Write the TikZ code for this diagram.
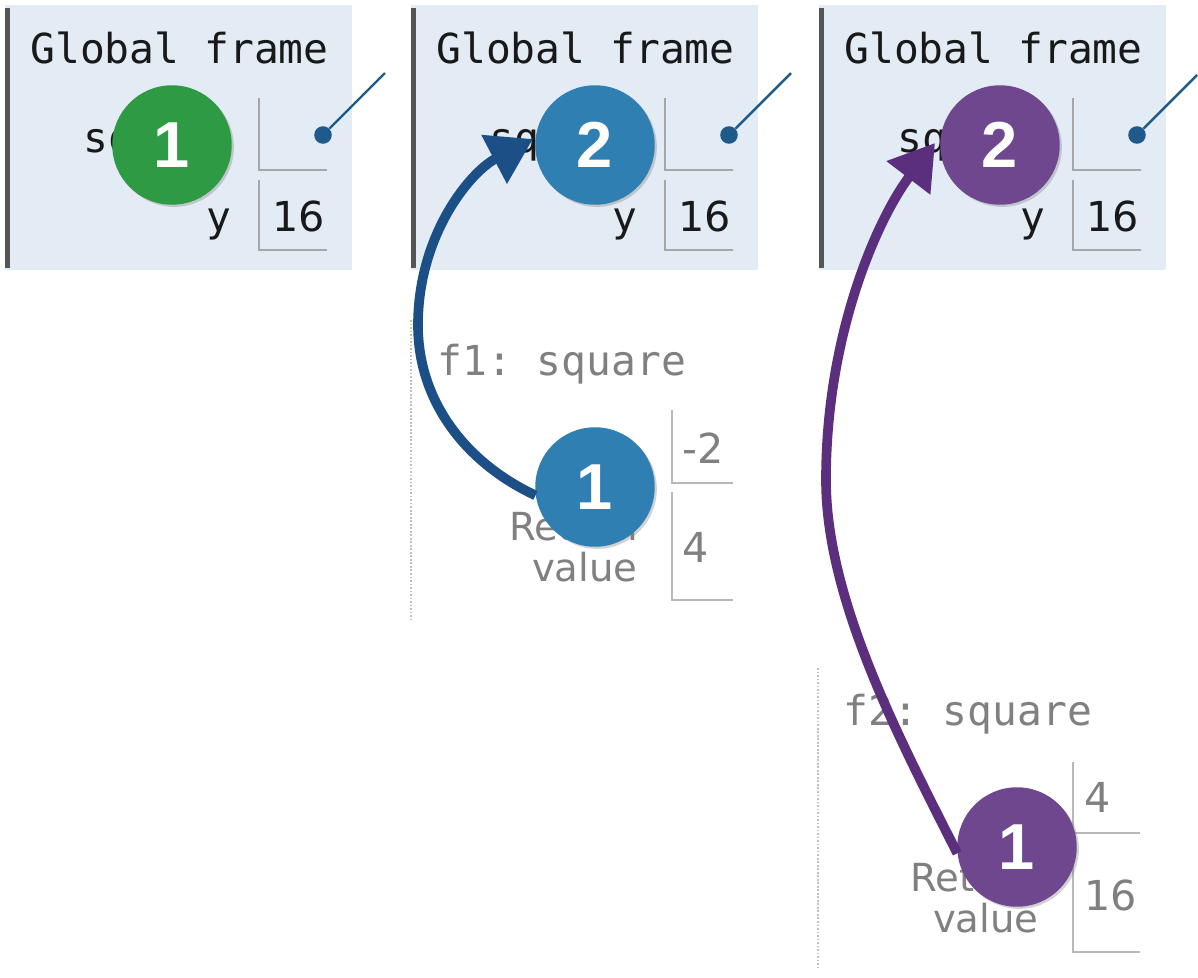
\documentclass[tikz,border=0pt]{standalone}
\usepackage{fontspec}
\setmainfont{DejaVu Sans}
\setmonofont{DejaVu Sans Mono}
\newfontfamily\numfont{Liberation Sans}
\usetikzlibrary{arrows.meta,shadows}
\definecolor{framebg}{HTML}{E3EBF5}
\definecolor{framebar}{HTML}{555555}
\definecolor{boxgray}{HTML}{A6A6A6}
\definecolor{fadetext}{HTML}{808080}
\definecolor{ptrblue}{HTML}{1F5B8A}
\definecolor{stepgreen}{HTML}{2E9B44}
\definecolor{stepblue}{HTML}{2F7FB2}
\definecolor{arrowblue}{HTML}{1B4F85}
\definecolor{steppurple}{HTML}{6F478F}
\definecolor{arrowpurple}{HTML}{5C2F7E}

\begin{document}
\begin{tikzpicture}[x=0.02cm,y=-0.02cm,
    mono/.style={font=\ttfamily\fontsize{23.5}{26}\selectfont, inner sep=0pt, text=black!90},
    fmono/.style={mono, text=fadetext},
    valtxt/.style={font=\fontsize{23.5}{26}\selectfont, inner sep=0pt, anchor=base west},
    retlbl/.style={font=\fontsize{22}{23.3}\selectfont, inner sep=0pt, text=fadetext,
      align=right, anchor=base east},
    boxline/.style={boxgray, line width=1.1pt},
    ptrdot/.style={circle, fill=ptrblue, inner sep=0pt, minimum size=10pt},
    ptrline/.style={ptrblue, line width=1.4pt},
    stepcirc/.style={circle, minimum size=68pt, inner sep=0pt, text=white,
      font=\numfont\bfseries\fontsize{37}{37}\selectfont,
      drop shadow={shadow xshift=1.2pt, shadow yshift=-1.2pt, opacity=.35}},
    steparrow/.style={line width=5.5pt, -{Triangle[length=25pt, width=30pt]}},
    framedots/.style={gray!50, line width=1.2pt, dash pattern=on 1pt off 1pt}]
  \useasboundingbox (0,0) rectangle (1198,978);
  \fill[white] (0,0) rectangle (1198,978);
  % global frames
  \foreach \i/\dx/\ex in {1/0/62,2/406/62,3/814/60} {
    \begin{scope}[shift={(\dx,0)}]
      \fill[framebg] (5,5) rectangle (352,270);
      \draw[framebar, line width=2.8pt] (7.5,8) -- (7.5,268);
      \node[mono, anchor=base west] (gf\i) at (30,63) {Global frame};
      \node[mono, anchor=base east] (sqname\i) at (233,152) {square};
      \node[mono, anchor=base east] (yname\i) at (232,231) {y};
      \draw[boxline] (259,98) -- (259,170) -- (327,170);
      \draw[boxline] (259,180) -- (259,250) -- (327,250);
      \node[valtxt, text=black!90] (yval\i) at (272,231) {16};
      \node[ptrdot] (ptr\i) at (323,135) {};
      \coordinate (ptrend\i) at (323+\ex,135-\ex);
      \draw[ptrline] (ptr\i) -- (ptrend\i);
    \end{scope}
  }
  % frame f1
  \draw[framedots] (411,320) -- (411,620);
  \node[fmono, anchor=base west] (f1name) at (437,375) {f1: square};
  \draw[boxline, boxgray!80] (672,410) -- (672,483) -- (733,483);
  \draw[boxline, boxgray!80] (672,492) -- (672,600) -- (733,600);
  \node[valtxt, text=fadetext] (xval1) at (682,463) {-2};
  \node[valtxt, text=fadetext] (retval1) at (682,562) {4};
  \node[retlbl] (ret1) at (638,581) {Return\\value};
  % frame f2
  \draw[framedots] (818,668) -- (818,970);
  \node[fmono, anchor=base west] (f2name) at (843,725) {f2: square};
  \draw[boxline, boxgray!80] (1073,762) -- (1073,833) -- (1140,833);
  \draw[boxline, boxgray!80] (1073,840) -- (1073,952) -- (1140,952);
  \node[valtxt, text=fadetext] (xval2) at (1084,812) {4};
  \node[valtxt, text=fadetext] (retval2) at (1084,910) {16};
  \node[retlbl] (ret2) at (1039,932) {Return\\value};
  % step circles
  \node[stepcirc, fill=stepgreen] (g1) at (172,145) {1};
  \node[stepcirc, fill=stepblue] (b2) at (595,145) {2};
  \node[stepcirc, fill=stepblue] (b1) at (595,487) {1};
  \node[stepcirc, fill=steppurple] (p2) at (1000,145) {2};
  \node[stepcirc, fill=steppurple] (p1) at (1017,847) {1};
  % arrows
  \coordinate (tipb) at (533,139);
  \coordinate (tipp) at (935,143);
  \draw[steparrow, arrowblue] (b1.188) .. controls (470,465) and (418,405) .. (418,325)
    .. controls (418,235) and (470,172) .. (tipb);
  \draw[steparrow, arrowpurple] (p1.186) .. controls (900,740) and (826,600) .. (826,480)
    .. controls (826,330) and (880,215) .. (tipp);
\end{tikzpicture}
\end{document}
